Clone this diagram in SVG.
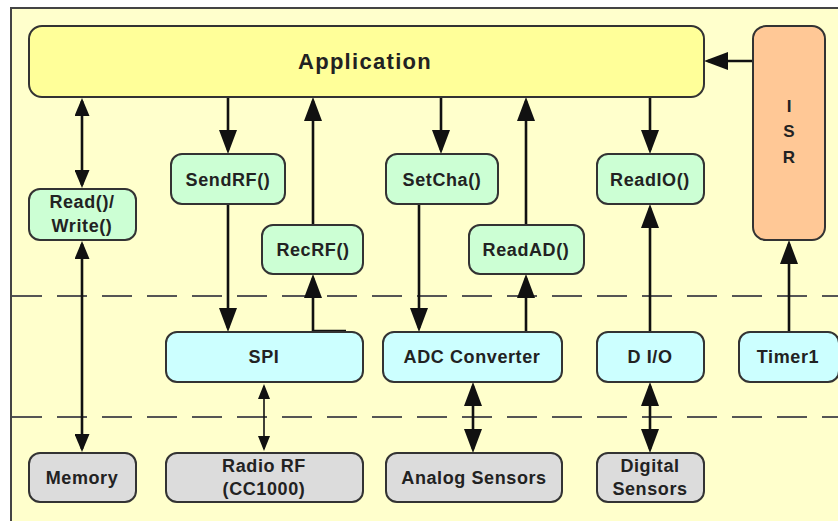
<svg xmlns="http://www.w3.org/2000/svg" width="838" height="521" viewBox="0 0 838 521">
<defs>
<style>
.box{stroke:#333;stroke-width:2}
.app{fill:#FFFF99}
.isr{fill:#FFC896}
.fn{fill:#CCFFD4}
.hw{fill:#CCFFFF}
.dev{fill:#DCDCDC}
text{font-family:"Liberation Sans",Arial,sans-serif;font-weight:bold;fill:#222;text-anchor:middle}
.t{font-size:18px;letter-spacing:0.6px}
.c{fill:none;stroke:#111;stroke-width:2.6}
.thin{fill:none;stroke:#111;stroke-width:1.6}
.dash{stroke:#555;stroke-width:2;stroke-dasharray:30 15}
</style>
<marker id="big" viewBox="0 0 24 18" refX="20" refY="9" markerWidth="24" markerHeight="18" markerUnits="userSpaceOnUse" orient="auto-start-reverse"><path d="M0,0 L24,9 L0,18 z" fill="#111"/></marker>
<marker id="med" viewBox="0 0 18 15" refX="15" refY="7.5" markerWidth="18" markerHeight="15" markerUnits="userSpaceOnUse" orient="auto-start-reverse"><path d="M0,0 L18,7.5 L0,15 z" fill="#111"/></marker>
<marker id="sm" viewBox="0 0 15 12" refX="13" refY="6" markerWidth="15" markerHeight="12" markerUnits="userSpaceOnUse" orient="auto-start-reverse"><path d="M0,0 L15,6 L0,12 z" fill="#111"/></marker>
</defs>
<rect x="0" y="0" width="838" height="521" fill="#fff"/>
<rect x="11" y="8" width="840" height="530" fill="#FFFFCC" stroke="#444" stroke-width="2"/>
<g id="layers">
<line class="dash" x1="12" y1="296" x2="838" y2="296"/>
<line class="dash" x1="12" y1="417" x2="838" y2="417"/>
</g>
<g id="connectors">
<line class="c" x1="82" y1="101" x2="82" y2="185" marker-start="url(#med)" marker-end="url(#med)"/>
<line class="c" x1="82" y1="244" x2="82" y2="449" marker-start="url(#med)" marker-end="url(#med)"/>
<line class="c" x1="228" y1="97" x2="228" y2="150" marker-end="url(#big)"/>
<line class="c" x1="228" y1="204" x2="228" y2="328" marker-end="url(#big)"/>
<line class="c" x1="313" y1="225" x2="313" y2="101" marker-end="url(#big)"/>
<path class="c" d="M346,331 H313 V278" marker-end="url(#big)"/>
<line class="thin" x1="264" y1="386" x2="264" y2="449" marker-start="url(#sm)" marker-end="url(#sm)"/>
<line class="c" x1="441" y1="97" x2="441" y2="150" marker-end="url(#big)"/>
<line class="c" x1="419" y1="204" x2="419" y2="328" marker-end="url(#big)"/>
<line class="c" x1="526" y1="225" x2="526" y2="101" marker-end="url(#big)"/>
<line class="c" x1="526" y1="332" x2="526" y2="278" marker-end="url(#big)"/>
<line class="c" x1="473" y1="386" x2="473" y2="449" marker-start="url(#big)" marker-end="url(#big)"/>
<line class="c" x1="650" y1="97" x2="650" y2="150" marker-end="url(#big)"/>
<line class="c" x1="650" y1="332" x2="650" y2="208" marker-end="url(#big)"/>
<line class="c" x1="650" y1="386" x2="650" y2="449" marker-start="url(#big)" marker-end="url(#big)"/>
<line class="c" x1="789" y1="332" x2="789" y2="244" marker-end="url(#big)"/>
<line class="c" x1="753" y1="61" x2="708" y2="61" marker-end="url(#big)"/>
</g>
<g id="application"><rect class="box app" x="29" y="26" width="675" height="71" rx="13"/><text x="365" y="69" style="font-size:22px;letter-spacing:1.3px">Application</text></g>
<g id="isr"><rect class="box isr" x="753" y="26" width="72" height="214" rx="13"/><text x="789" y="112" style="font-size:17px">I</text><text x="789" y="137" style="font-size:17px">S</text><text x="789" y="163" style="font-size:17px">R</text></g>
<g id="readwrite"><rect class="box fn" x="29" y="189" width="107" height="51" rx="11"/><text class="t" x="82" y="208">Read()/</text><text class="t" x="82" y="232">Write()</text></g>
<g id="sendrf"><rect class="box fn" x="171" y="154" width="114" height="50" rx="11"/><text class="t" x="228" y="186">SendRF()</text></g>
<g id="recrf"><rect class="box fn" x="262" y="225" width="101" height="49" rx="11"/><text class="t" x="313" y="256">RecRF()</text></g>
<g id="setcha"><rect class="box fn" x="386" y="154" width="112" height="50" rx="11"/><text class="t" x="442" y="186">SetCha()</text></g>
<g id="readad"><rect class="box fn" x="469" y="225" width="115" height="49" rx="11"/><text class="t" x="526" y="256">ReadAD()</text></g>
<g id="readio"><rect class="box fn" x="597" y="154" width="107" height="50" rx="11"/><text class="t" x="650" y="186">ReadIO()</text></g>
<g id="spi"><rect class="box hw" x="166" y="332" width="197" height="50" rx="11"/><text class="t" x="264" y="363">SPI</text></g>
<g id="adc"><rect class="box hw" x="383" y="332" width="179" height="50" rx="11"/><text class="t" x="472" y="363">ADC Converter</text></g>
<g id="dio"><rect class="box hw" x="597" y="332" width="107" height="50" rx="11"/><text class="t" x="650" y="363">D I/O</text></g>
<g id="timer1"><rect class="box hw" x="739" y="332" width="100" height="50" rx="11"/><text class="t" x="788" y="363">Timer1</text></g>
<g id="memory"><rect class="box dev" x="29" y="453" width="107" height="49" rx="11"/><text class="t" x="82" y="484">Memory</text></g>
<g id="radio"><rect class="box dev" x="166" y="453" width="197" height="49" rx="11"/><text class="t" x="264" y="472">Radio RF</text><text class="t" x="264" y="495">(CC1000)</text></g>
<g id="analog"><rect class="box dev" x="386" y="453" width="176" height="49" rx="11"/><text class="t" x="474" y="484">Analog Sensors</text></g>
<g id="digital"><rect class="box dev" x="597" y="453" width="107" height="49" rx="11"/><text class="t" x="650" y="472">Digital</text><text class="t" x="650" y="495">Sensors</text></g>
</svg>
